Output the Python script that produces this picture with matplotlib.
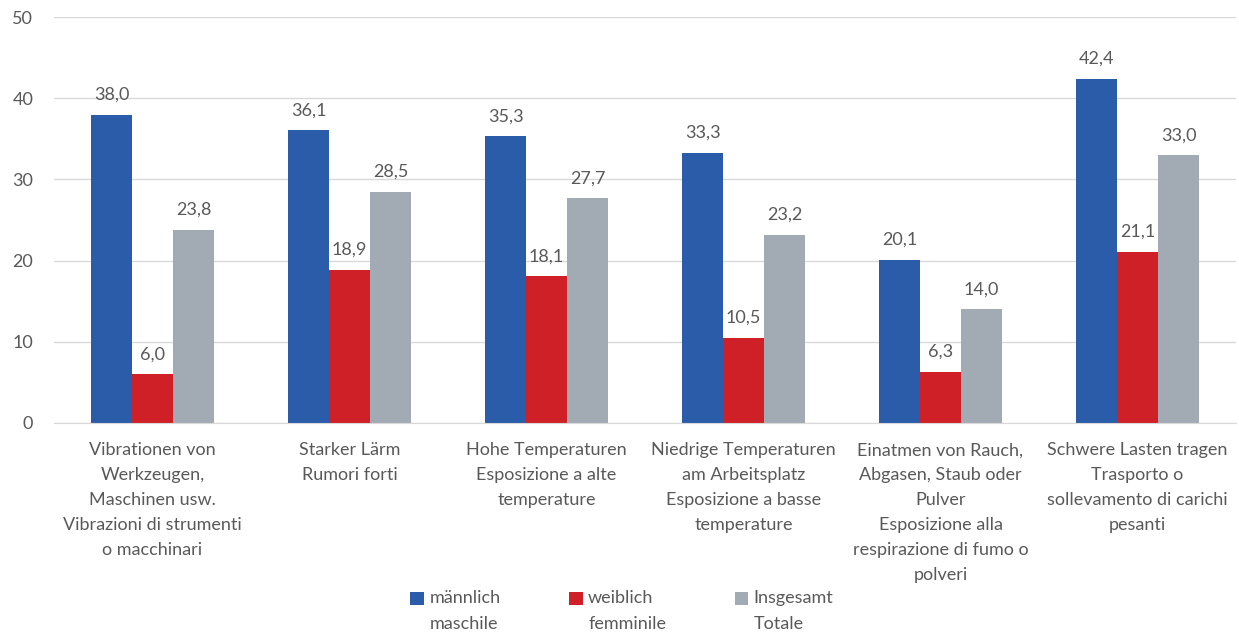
import matplotlib.pyplot as plt
import numpy as np

categories = [
    "Vibrationen von\nWerkzeugen,\nMaschinen usw.\nVibrazioni di strumenti\no macchinari",
    "Starker Lärm\nRumori forti",
    "Hohe Temperaturen\nEsposizione a alte\ntemperature",
    "Niedrige Temperaturen\nam Arbeitsplatz\nEsposizione a basse\ntemperature",
    "Einatmen von Rauch,\nAbgasen, Staub oder\nPulver\nEsposizione alla\nrespirazione di fumo o\npolveri",
    "Schwere Lasten tragen\nTrasporto o\nsollevamento di carichi\npesanti",
]
maennlich = [38.0, 36.1, 35.3, 33.3, 20.1, 42.4]
weiblich = [6.0, 18.9, 18.1, 10.5, 6.3, 21.1]
insgesamt = [23.8, 28.5, 27.7, 23.2, 14.0, 33.0]
series_labels = ["männlich\nmaschile", "weiblich\nfemminile", "Insgesamt\nTotale"]
colors = ["#2B5CAA", "#CF2027", "#A2AAB3"]
yticks = [0, 10, 20, 30, 40, 50]

plt.rcParams['font.family'] = ['Lato', 'DejaVu Sans']
txt = "#595959"
fs = 13

fig = plt.figure(figsize=(12.39, 6.35), dpi=100)
ax = fig.add_axes([0.0436, 0.334, 0.954, 0.639])

x = np.arange(len(categories))
w = 0.208
data = [maennlich, weiblich, insgesamt]
for i, (vals, c, lab) in enumerate(zip(data, colors, series_labels)):
    bars = ax.bar(x + (i - 1) * w, vals, w, color=c, label=lab, zorder=2)
    for b, v in zip(bars, vals):
        ax.text(b.get_x() + b.get_width() / 2, v + 1.45, f"{v:.1f}".replace(".", ","),
                ha="center", va="bottom", fontsize=fs, color=txt)

ax.set_xlim(-0.5, len(categories) - 0.5)
ax.set_ylim(0, 50)
ax.set_yticks(yticks)
ax.set_yticklabels([str(t) for t in yticks], fontsize=fs, color=txt)
ax.yaxis.grid(True, color="#D9D9D9", linewidth=1, zorder=0)
ax.set_axisbelow(True)
for s in ["top", "right", "left"]:
    ax.spines[s].set_visible(False)
ax.spines["bottom"].set_color("#D9D9D9")
ax.tick_params(axis="y", length=0, pad=15)
ax.tick_params(axis="x", length=0, pad=14)
ax.set_xticks(x)
ax.set_xticklabels(categories, fontsize=fs, color=txt, linespacing=1.68)

leg = fig.legend(loc="lower center", ncol=3, bbox_to_anchor=(0.502, -0.012), frameon=False,
                 fontsize=fs, labelcolor=txt, handlelength=0.75, handleheight=0.75,
                 handletextpad=0.3, columnspacing=3.8, borderaxespad=0.2)
for t in leg.get_texts():
    t.set_linespacing(1.72)
for h in leg.legend_handles:
    h.set_y(h.get_y() + 9)

fig.savefig("out.png", dpi=100)
